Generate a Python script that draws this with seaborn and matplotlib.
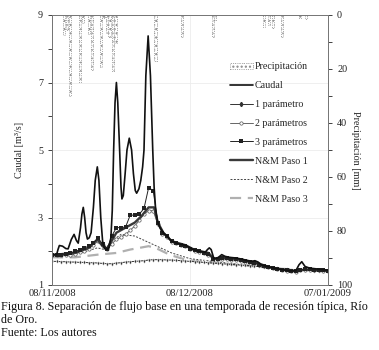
import matplotlib
matplotlib.use("Agg")
import matplotlib.pyplot as plt
import seaborn as sns
from matplotlib.patches import Patch
from matplotlib.lines import Line2D

# ---------------- data (days since 08/11/2008) ----------------
x_tick_pos = [0, 30, 60]
x_tick_labels = ["08/11/2008", "08/12/2008", "07/01/2009"]

rain_day = [2.7, 3.3, 4.0, 6.0, 6.7, 8.0, 8.7, 10.6, 11.2, 12.0, 12.5, 13.3, 13.8,
            22.5, 28.2, 35.1, 35.5, 46.1, 47.2, 48.0, 49.9, 53.9, 55.2]
rain_mm = [7.4, 5.6, 30.0, 24.7, 2.8, 7.0, 20.4, 19.4, 1.2, 6.5, 8.3, 20.6, 10.2,
           17.0, 8.0, 8.3, 2.0, 4.6, 3.7, 4.9, 8.0, 1.2, 1.6]

q_day = [0, 1.0, 1.3, 1.6, 2.3, 3.0, 3.5, 4.2, 4.8, 5.3, 5.7, 6.2, 6.5, 6.8, 7.1, 7.4,
         7.7, 8.1, 8.5, 9.0, 9.4, 9.85, 10.2, 10.6, 11.0, 11.4, 11.9, 12.4, 12.8, 13.1,
         13.4, 13.7, 14.0, 14.3, 14.7, 15.0, 15.2, 15.5, 15.9, 16.3, 16.8, 17.3, 17.7,
         18.1, 18.4, 18.9, 19.3, 19.7, 20.0, 20.4, 20.9, 21.4, 21.9, 22.2, 22.5, 22.9,
         23.4, 24.2, 25.0, 26.0, 27.5, 29.0, 30.7, 32.0, 33.3, 33.8, 34.2, 34.6, 35.2,
         36.0, 36.9, 37.6, 38.5, 40.0, 41.5, 42.5, 43.5, 44.1, 44.8, 45.5, 47.0, 49.0,
         51.5, 53.0, 53.7, 54.3, 55.0, 56.0, 58.0, 60.0]
caudal = [1.90, 1.90, 2.05, 2.17, 2.15, 2.08, 2.07, 2.35, 2.50, 2.32, 2.24, 2.70, 3.10,
          3.30, 3.00, 2.55, 2.36, 2.40, 2.55, 3.30, 4.10, 4.50, 4.10, 3.00, 2.30, 2.08,
          2.05, 2.10, 2.40, 3.20, 5.00, 6.40, 7.00, 6.40, 5.00, 3.90, 3.55, 3.65, 4.30,
          5.00, 5.35, 5.00, 4.30, 3.80, 3.72, 3.85, 4.10, 4.50, 5.00, 7.20, 8.38, 7.20,
          5.00, 3.90, 3.30, 2.90, 2.72, 2.55, 2.45, 2.30, 2.22, 2.18, 2.05, 2.00, 1.97,
          2.05, 2.10, 2.05, 1.78, 1.80, 1.90, 1.85, 1.82, 1.80, 1.76, 1.72, 1.70, 1.72,
          1.68, 1.60, 1.54, 1.48, 1.42, 1.42, 1.60, 1.69, 1.55, 1.50, 1.47, 1.44]

daily = list(range(61))
p1 = [1.70, 1.70, 1.69, 1.69, 1.68, 1.68, 1.67, 1.67, 1.66, 1.66, 1.65, 1.64, 1.63,
      1.63, 1.65, 1.66, 1.68, 1.69, 1.70, 1.71, 1.72, 1.74, 1.75, 1.75, 1.75, 1.74,
      1.74, 1.73, 1.72, 1.71, 1.70, 1.69, 1.68, 1.67, 1.66, 1.65, 1.64, 1.63, 1.62,
      1.61, 1.60, 1.59, 1.58, 1.57, 1.56, 1.55, 1.53, 1.52, 1.50, 1.49, 1.47, 1.46,
      1.45, 1.44, 1.44, 1.43, 1.43, 1.42, 1.42, 1.41, 1.41]
p2 = [1.88, 1.88, 1.88, 1.89, 1.90, 1.93, 1.97, 2.02, 2.08, 2.18, 2.30, 2.18, 2.07,
      2.22, 2.35, 2.42, 2.50, 2.62, 2.75, 2.92, 3.10, 3.20, 3.20, 2.80, 2.52, 2.42,
      2.28, 2.23, 2.18, 2.15, 2.06, 2.02, 1.98, 1.95, 1.90, 1.76, 1.76, 1.77, 1.76,
      1.75, 1.73, 1.71, 1.68, 1.66, 1.64, 1.59, 1.55, 1.52, 1.49, 1.47, 1.44, 1.42,
      1.41, 1.40, 1.43, 1.45, 1.45, 1.44, 1.43, 1.42, 1.41]
p3 = [1.90, 1.90, 1.90, 1.92, 1.95, 2.00, 2.04, 2.10, 2.15, 2.25, 2.38, 2.22, 2.08,
      2.45, 2.70, 2.70, 2.72, 3.07, 3.07, 3.10, 3.27, 3.88, 3.80, 2.85, 2.55, 2.45,
      2.30, 2.25, 2.20, 2.17, 2.08, 2.04, 2.00, 1.96, 1.93, 1.78, 1.78, 1.80, 1.79,
      1.78, 1.76, 1.74, 1.71, 1.68, 1.66, 1.60, 1.56, 1.53, 1.50, 1.48, 1.45, 1.43,
      1.42, 1.41, 1.45, 1.47, 1.46, 1.45, 1.44, 1.43, 1.42]

nm1_day = [0, 5, 8, 9.85, 11, 12, 14, 16, 18, 19.5, 21, 22.2, 23, 24.2, 26, 29, 31, 34,
           35.2, 37, 40, 44, 47, 51.5, 53, 55, 60]
nm1 = [1.89, 1.95, 2.10, 2.35, 2.15, 2.08, 2.55, 2.70, 2.85, 3.05, 3.30, 3.30, 2.85,
       2.55, 2.30, 2.18, 2.04, 1.95, 1.78, 1.82, 1.78, 1.68, 1.54, 1.42, 1.41, 1.46, 1.42]

nm2_day = [0, 5, 9.85, 11.5, 13, 15, 18, 22, 26, 30, 35, 40, 45, 50, 55, 60]
nm2 = [1.85, 1.90, 2.10, 2.05, 2.30, 2.50, 2.45, 2.20, 1.95, 1.78, 1.70, 1.62, 1.55,
       1.48, 1.44, 1.42]

nm3_day = [0, 5, 10, 14, 17, 21, 22.5, 25.7, 29.3, 35, 40, 45, 50, 55, 60]
nm3 = [1.82, 1.82, 1.90, 1.95, 2.05, 2.15, 2.10, 1.89, 1.74, 1.66, 1.60, 1.54, 1.48,
       1.44, 1.42]

# ---------------- figure ----------------
sns.set_style("white")
plt.rcParams["font.family"] = ["Liberation Serif", "DejaVu Serif"]

fig = plt.figure(figsize=(3.79, 3.5), dpi=100)
ax = fig.add_axes([52 / 379, 1 - 285 / 350, 276 / 379, 270 / 350])
ax2 = ax.twinx()

for yv in [3, 5, 7]:
    ax.axhline(yv, color="#ececec", lw=0.6, zorder=0)
ax.axvline(30, color="#ececec", lw=0.6, zorder=0)

sns.lineplot(x=nm3_day, y=nm3, ax=ax, color="#b0b0b0", lw=1.6,
             linestyle=(0, (5, 3)), zorder=2)
sns.lineplot(x=nm2_day, y=nm2, ax=ax, color="#444444", lw=0.7, linestyle=(0, (2, 1.5)),
             zorder=2)
sns.lineplot(x=daily, y=p1, ax=ax, color="#333333", lw=0.7, marker="d", markersize=2.2,
             markeredgewidth=0.4, zorder=3)
sns.lineplot(x=daily, y=p2, ax=ax, color="#666666", lw=0.7, marker="o", markersize=2.4,
             markerfacecolor="white", markeredgecolor="#555555", markeredgewidth=0.5,
             zorder=3)
sns.lineplot(x=nm1_day, y=nm1, ax=ax, color="#3a3a3a", lw=1.7, zorder=3)
sns.lineplot(x=daily, y=p3, ax=ax, color="#222222", lw=0.7, marker="s", markersize=2.2,
             markeredgewidth=0, zorder=4)
sns.lineplot(x=q_day, y=caudal, ax=ax, color="#111111", lw=1.2, zorder=5)

ax.set_xlim(0, 60)
ax.set_ylim(1, 9)
ax.set_yticks([1, 3, 5, 7, 9])
ax.set_yticks([2, 4, 6, 8], minor=True)
ax.set_xticks(x_tick_pos)
ax.set_xticklabels(x_tick_labels)
ax.set_xticks([10, 20, 40, 50], minor=True)
ax.tick_params(axis="x", which="both", direction="in", length=3, width=0.6,
               labelsize=7.6, colors="#222222", pad=3)
ax.tick_params(axis="y", which="both", direction="out", length=3, width=0.6,
               labelsize=7.3, colors="#222222", left=True)
ax.set_xlabel("")
ax.set_ylabel("Caudal [m³/s]", fontsize=7.3, labelpad=10)

ax2.bar(rain_day, rain_mm, width=0.45, bottom=0, color="white", edgecolor="#8a8a8a",
        linewidth=0.6, linestyle=":", hatch="....", zorder=2)
ax2.set_ylim(100, 0)
ax2.set_yticks([0, 20, 40, 60, 80, 100])
ax2.set_yticks([10, 30, 50, 70, 90], minor=True)
ax2.tick_params(axis="y", which="both", direction="out", length=3, width=0.6,
                labelsize=7.3, colors="#222222", right=True)
ax2.set_ylabel("Precipitación [mm]", fontsize=7.3, rotation=270, labelpad=6)

for a in (ax, ax2):
    for s in a.spines.values():
        s.set_color("#777777")
        s.set_linewidth(0.7)
ax.spines["left"].set_color("#333333")
ax.spines["bottom"].set_color("#333333")

lg = ax.get_legend()
if lg is not None:
    lg.remove()

handles = [
    Patch(facecolor="white", edgecolor="#888888", hatch="....", linestyle=":", linewidth=0.6),
    Line2D([], [], color="#111111", lw=1.2),
    Line2D([], [], color="#333333", lw=0.7, marker="d", markersize=2.2),
    Line2D([], [], color="#666666", lw=0.7, marker="o", markersize=2.4,
           markerfacecolor="white", markeredgecolor="#555555", markeredgewidth=0.5),
    Line2D([], [], color="#222222", lw=0.7, marker="s", markersize=2.2, markeredgewidth=0),
    Line2D([], [], color="#3a3a3a", lw=1.7),
    Line2D([], [], color="#444444", lw=0.7, linestyle=(0, (2, 1.5))),
    Line2D([], [], color="#b0b0b0", lw=1.6, linestyle=(0, (5, 3))),
]
labels = ["Precipitación", "Caudal", "1 parámetro", "2 parámetros", "3 parámetros",
          "N&M Paso 1", "N&M Paso 2", "N&M Paso 3"]
ax2.legend(handles, labels, loc="upper left", bbox_to_anchor=(0.63, 0.84),
           frameon=False, fontsize=7.2, labelspacing=0.99, handlelength=2.3,
           handletextpad=0.2, borderaxespad=0, handleheight=0.6)

fig.text(1 / 379, 1 - 307 / 350,
         "Figura 8. Separación de flujo base en una temporada de recesión típica, Río",
         fontsize=8.7, va="center", ha="left", color="#111111")
fig.text(1 / 379, 1 - 320 / 350, "de Oro.", fontsize=8.7, va="center", ha="left",
         color="#111111")
fig.text(1 / 379, 1 - 333 / 350, "Fuente: Los autores", fontsize=8.7, va="center",
         ha="left", color="#111111")

fig.savefig("out.png", dpi=100, facecolor="white")
